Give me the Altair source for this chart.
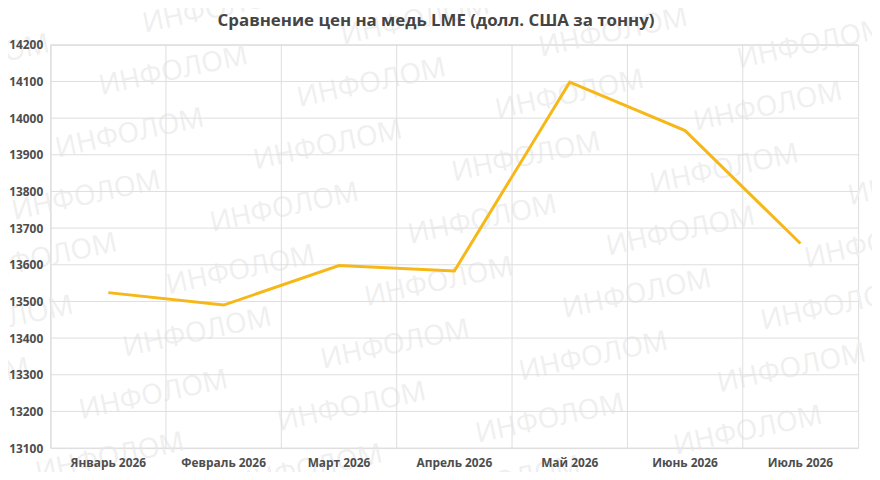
import altair as alt
import pandas as pd

# ---- data ----
months = ["Январь 2026", "Февраль 2026", "Март 2026", "Апрель 2026",
          "Май 2026", "Июнь 2026", "Июль 2026"]
prices = [13524, 13490, 13598, 13583, 14098, 13966, 13658]
y_ticks = [13100, 13200, 13300, 13400, 13500, 13600, 13700,
           13800, 13900, 14000, 14100, 14200]
title_text = "Сравнение цен на медь LME (долл. США за тонну)"
watermark_text = "ИНФОЛОМ"

df = pd.DataFrame({"month": months, "price": prices})
ticks_df = pd.DataFrame({"price": y_ticks})

# ---- decorative watermark lattice (pixel space, plot-relative) ----
PLOT_W, PLOT_H = 815, 407
pts = []
for i in range(-15, 16):
    for j in range(-8, 9):
        px = 80 + i * 44 + j * 200
        py = 90 - i * 63 + j * 12
        if -110 < px < PLOT_W + 90 and -60 < py < PLOT_H + 45:
            pts.append((px, py))
wm = pd.DataFrame(pts, columns=["wx", "wy"])

FONT = "Open Sans"
GRID = "#dedede"
LABEL = "#4d4d4d"

x_band = alt.Scale(type="band", paddingInner=0, paddingOuter=0, domain=months)
y_scale = alt.Scale(domain=[13100, 14200], nice=False, zero=False)
x_axis = alt.Axis(orient="bottom", title=None, labelAngle=0, grid=False,
                  ticks=False, domain=False, labelPadding=10,
                  labelFontSize=12, labelFontWeight="bold",
                  labelColor=LABEL, labelFont=FONT, zindex=1)
y_axis = alt.Axis(orient="left", title=None, values=y_ticks, format="d",
                  grid=False, ticks=False, domain=False,
                  labelPadding=8, labelFontSize=12, labelFontWeight="bold",
                  labelColor=LABEL, labelFont=FONT, zindex=1)

watermark = alt.Chart(wm).mark_text(
    text=watermark_text, angle=348, fontSize=28, font=FONT, fontWeight=400,
    color="#efefef", align="center", baseline="middle"
).encode(
    x=alt.X("wx:Q", scale=None, axis=None),
    y=alt.Y("wy:Q", scale=None, axis=None),
)

vgrid = alt.Chart(df).mark_rule(color=GRID, strokeWidth=1).encode(
    x=alt.X("month:N", sort=months, scale=x_band, bandPosition=0, axis=x_axis)
)

hgrid = alt.Chart(ticks_df).mark_rule(color=GRID, strokeWidth=1).encode(
    y=alt.Y("price:Q", scale=y_scale, axis=y_axis)
)

line = alt.Chart(df).mark_line(color="#F6B818", strokeWidth=3).encode(
    x=alt.X("month:N", sort=months, scale=x_band, bandPosition=0.5, axis=x_axis),
    y=alt.Y("price:Q", scale=y_scale, axis=y_axis),
)

title = alt.Chart(pd.DataFrame({"t": [title_text]})).mark_text(
    fontSize=17, font=FONT, fontWeight="bold", color="#444444",
    align="center", baseline="middle"
).encode(
    text="t:N",
    x=alt.value(389),
    y=alt.value(-24),
)

chart = alt.layer(
    watermark,
    alt.layer(vgrid, hgrid, line),
    title,
).resolve_scale(
    x="independent", y="independent"
).properties(
    width=PLOT_W, height=PLOT_H,
    padding={"left": 43, "top": 35, "right": 14, "bottom": 22},
    autosize="none",
).configure_view(
    stroke=GRID, strokeWidth=1
).configure(background="white")

chart.save("out.html", embed_options={"renderer": "svg", "actions": False})
